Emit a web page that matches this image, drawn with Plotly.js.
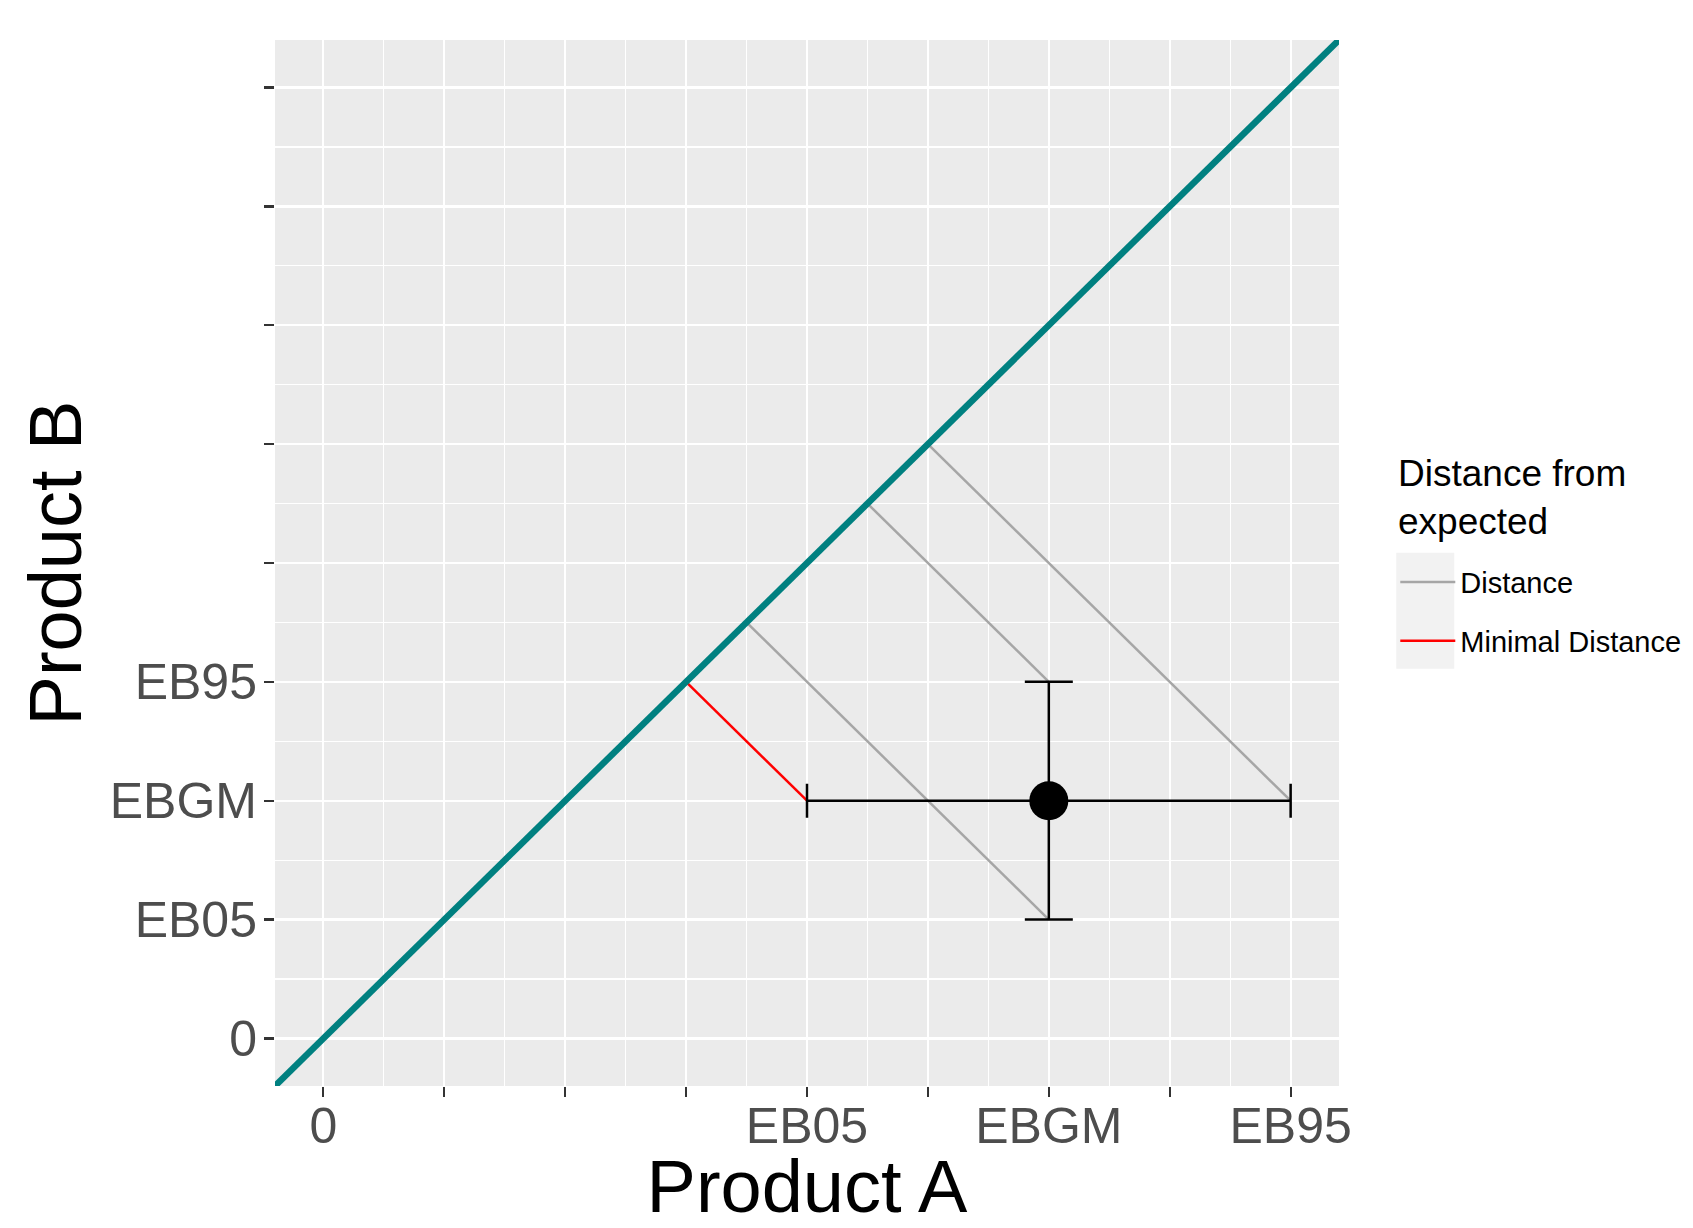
<!DOCTYPE html>
<html>
<head>
<meta charset="utf-8">
<script src="https://cdn.plot.ly/plotly-3.0.1.min.js"></script>
<style>html,body{margin:0;padding:0;background:#fff;}#chart{width:1693px;height:1228px;}</style>
</head>
<body>
<div id="chart"></div>
<script>
// ---- data ----
const tickVals = [0, 1, 2, 3, 4, 5, 6, 7, 8];
const xTickText = ["0", "", "", "", "EB05", "", "EBGM", "", "EB95"];
const yTickText = ["0", "EB05", "EBGM", "EB95", "", "", "", "", ""];
const axisRange = [-0.4, 8.4];
const legendTitle = "Distance from<br>expected";

// Product A estimates (x) and Product B estimates (y)
const productA = { eb05: 4, ebgm: 6, eb95: 8 };
const productB = { eb05: 1, ebgm: 2, eb95: 3 };

// distance segments (start -> point on the diagonal)
const distStartX = [6, 6, 8];
const distStartY = [3, 1, 2];
const distEndX = [4.5, 3.5, 5];
const distEndY = [4.5, 3.5, 5];

// minimal distance segment
const minStartX = [4];
const minStartY = [2];
const minEndX = [3];
const minEndY = [3];

// ---- build traces ----
function segs(sx, sy, ex, ey) {
  const x = [], y = [];
  for (let i = 0; i < sx.length; i++) {
    x.push(sx[i], ex[i], null);
    y.push(sy[i], ey[i], null);
  }
  return { x, y };
}
const dist = segs(distStartX, distStartY, distEndX, distEndY);
const mind = segs(minStartX, minStartY, minEndX, minEndY);

const FONT = "Liberation Sans, Arial, sans-serif";

const traces = [
  {
    x: dist.x, y: dist.y, mode: "lines", type: "scatter",
    name: "Distance", legendgroup: "g1",
    line: { color: "#A6A6A6", width: 2.5 },
    hoverinfo: "skip"
  },
  {
    x: mind.x, y: mind.y, mode: "lines", type: "scatter",
    name: "Minimal Distance", legendgroup: "g2",
    line: { color: "#FF0000", width: 2.5 },
    hoverinfo: "skip"
  },
  {
    x: axisRange, y: axisRange, mode: "lines", type: "scatter",
    line: { color: "#008080", width: 6.5 },
    showlegend: false, hoverinfo: "skip"
  },
  {
    x: [productA.ebgm], y: [productB.ebgm], mode: "markers", type: "scatter",
    marker: { color: "black", size: 39 },
    error_x: {
      type: "data", symmetric: false,
      array: [productA.eb95 - productA.ebgm],
      arrayminus: [productA.ebgm - productA.eb05],
      color: "black", thickness: 2.5, width: 17
    },
    error_y: {
      type: "data", symmetric: false,
      array: [productB.eb95 - productB.ebgm],
      arrayminus: [productB.ebgm - productB.eb05],
      color: "black", thickness: 2.5, width: 24
    },
    showlegend: false, hoverinfo: "skip"
  }
];

const axisCommon = {
  range: axisRange,
  tickmode: "array",
  tickvals: tickVals,
  ticks: "outside",
  ticklen: 10,
  tickwidth: 2.2,
  tickcolor: "#333333",
  tickfont: { family: FONT, size: 50, color: "#4D4D4D" },
  showgrid: true,
  gridcolor: "#FFFFFF",
  gridwidth: 2.2,
  zeroline: false,
  showline: false,
  automargin: false,
  minor: { tick0: 0.5, dtick: 1, showgrid: true, gridcolor: "#FFFFFF", gridwidth: 1.1, ticks: "" }
};

const layout = {
  width: 1693,
  height: 1228,
  margin: { l: 275, r: 354, t: 40, b: 142, autoexpand: false },
  paper_bgcolor: "#FFFFFF",
  plot_bgcolor: "#EBEBEB",
  font: { family: FONT, color: "#000000" },
  xaxis: Object.assign({}, axisCommon, {
    ticktext: xTickText,
    ticklabelstandoff: -14,
    title: { text: "Product A", font: { family: FONT, size: 74, color: "#000000" }, standoff: 40 }
  }),
  yaxis: Object.assign({}, axisCommon, {
    ticktext: yTickText,
    ticklabelstandoff: -3,
    title: { text: "Product B", font: { family: FONT, size: 74, color: "#000000" }, standoff: 3 }
  }),
  showlegend: true,
  legend: {
    x: 1.0529, xanchor: "left",
    y: 0.506, yanchor: "top",
    bgcolor: "rgba(0,0,0,0)",
    tracegroupgap: 18,
    itemwidth: 55,
    font: { family: FONT, size: 29, color: "#000000" }
  },
  annotations: [
    {
      text: legendTitle, xref: "paper", yref: "paper",
      x: 1.054, y: 0.5622, xanchor: "left", yanchor: "middle",
      align: "left", showarrow: false,
      font: { family: FONT, size: 37, color: "#000000" }
    }
  ],
  shapes: [
    {
      type: "rect", xref: "paper", yref: "paper", layer: "below",
      x0: 1.0538, x1: 1.1083, y0: 0.3988, y1: 0.5097,
      fillcolor: "#F2F2F2", line: { width: 0 }
    }
  ]
};

Plotly.newPlot("chart", traces, layout, { displayModeBar: false, staticPlot: true });
</script>
</body>
</html>
